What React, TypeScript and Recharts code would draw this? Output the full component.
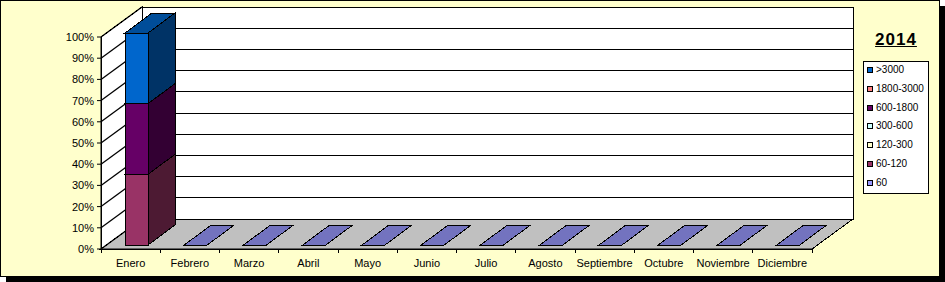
import React from 'react';
import { BarChart, Bar, XAxis, YAxis, CartesianGrid } from 'recharts';

const months = ['Enero', 'Febrero', 'Marzo', 'Abril', 'Mayo', 'Junio', 'Julio', 'Agosto', 'Septiembre', 'Octubre', 'Noviembre', 'Diciembre'];

// stacking order: bottom first
const seriesNames = ['60', '60-120', '120-300', '300-600', '600-1800', '1800-3000', '>3000'];
const seriesColors = ['#9999FF', '#993366', '#FFFFCC', '#CCFFFF', '#660066', '#FF8080', '#0066CC'];

const s60 = [0, 0, 0, 0, 0, 0, 0, 0, 0, 0, 0, 0];
const s60_120 = [1, 0, 0, 0, 0, 0, 0, 0, 0, 0, 0, 0];
const s120_300 = [0, 0, 0, 0, 0, 0, 0, 0, 0, 0, 0, 0];
const s300_600 = [0, 0, 0, 0, 0, 0, 0, 0, 0, 0, 0, 0];
const s600_1800 = [1, 0, 0, 0, 0, 0, 0, 0, 0, 0, 0, 0];
const s1800_3000 = [0, 0, 0, 0, 0, 0, 0, 0, 0, 0, 0, 0];
const sOver3000 = [1, 0, 0, 0, 0, 0, 0, 0, 0, 0, 0, 0];

const seriesValues = [s60, s60_120, s120_300, s300_600, s600_1800, s1800_3000, sOver3000];
const yTicks = [0, 0.1, 0.2, 0.3, 0.4, 0.5, 0.6, 0.7, 0.8, 0.9, 1];
const title = '2014';

const data = months.map((m, i) => {
  const row: any = { month: m };
  seriesNames.forEach((n, si) => { row[n] = seriesValues[si][i]; });
  return row;
});

const W = 938;
const H = 275;
const X_H = 27;
const margin = { top: 36, right: 127, bottom: 0, left: 0 };
const Y_W = 100;
const PL = margin.left + Y_W;
const PR = W - margin.right;
const PT = margin.top;
const PB = H - margin.bottom - X_H;
// wall depth offset
const DX = 41;
const DY = -30;
// bar offset inside depth, and bar depth
const BX = 6;
const BY = -4;
const BDX = 27;
const BDY = -20;

const FONT = 'Arial, "Liberation Sans", sans-serif';

const shade = (hex: string, f: number) => {
  const n = parseInt(hex.slice(1), 16);
  const r = (n >> 16) & 255, g = (n >> 8) & 255, b = n & 255;
  return `rgb(${Math.round(r * f)},${Math.round(g * f)},${Math.round(b * f)})`;
};

// side wall, back wall and floor, drawn under the chart svg
const Walls = () => (
  <svg width={W} height={H} style={{ position: 'absolute', left: 0, top: 0 }}>
    <g shapeRendering="crispEdges">
      <polygon points={`${PL},${PB} ${PL},${PT} ${PL + DX},${PT + DY} ${PL + DX},${PB + DY}`} fill="#fff" stroke="#000" />
      <polygon points={`${PL + DX},${PT + DY} ${PR + DX},${PT + DY} ${PR + DX},${PB + DY} ${PL + DX},${PB + DY}`} fill="#fff" stroke="#000" />
      <polygon points={`${PL},${PB} ${PR},${PB} ${PR + DX},${PB + DY} ${PL + DX},${PB + DY}`} fill="#C0C0C0" stroke="#000" />
    </g>
  </svg>
);

// 3D gridline: diagonal across the side wall, then along the back wall
const gridLine = (p: any) => {
  const { x1, y1, x2, index } = p;
  const sx = Number(x1 ?? PL);
  const ex = Number(x2 ?? PR);
  const yy = Number(y1);
  return (
    <g key={`g-${index}-${y1}`}>
      <line x1={sx} y1={yy} x2={sx + DX} y2={yy + DY} stroke="#000" strokeWidth={1.3} />
      <line x1={sx + DX} y1={yy + DY} x2={ex + DX} y2={yy + DY} stroke="#000" shapeRendering="crispEdges" />
    </g>
  );
};

const makeShape = (si: number) => (p: any) => {
  const { x, y, width, height, payload } = p;
  const c = seriesColors[si];
  const fx = x + BX;
  const fy = y + BY;
  if (!height || height < 0.5) {
    const total = seriesNames.reduce((a, n) => a + (payload?.[n] || 0), 0);
    if (si !== 0 || total !== 0) return <g />;
    return (
      <polygon
        shapeRendering="crispEdges"
        points={`${fx},${fy} ${fx + width},${fy} ${fx + width + BDX},${fy + BDY} ${fx + BDX},${fy + BDY}`}
        fill={shade(c, 0.75)}
        stroke="#000"
      />
    );
  }
  return (
    <g shapeRendering="crispEdges" stroke="#000">
      <rect x={fx} y={fy} width={width} height={height} fill={c} />
      <polygon
        points={`${fx + width},${fy} ${fx + width + BDX},${fy + BDY} ${fx + width + BDX},${fy + height + BDY} ${fx + width},${fy + height}`}
        fill={shade(c, 0.5)}
      />
      <polygon
        points={`${fx},${fy} ${fx + BDX},${fy + BDY} ${fx + width + BDX},${fy + BDY} ${fx + width},${fy}`}
        fill={shade(c, 0.75)}
      />
    </g>
  );
};

const MonthTick = (p: any) => {
  const { x, y, payload, index } = p;
  const half = (PR - PL) / months.length / 2;
  const ay = y - 4;
  return (
    <g shapeRendering="crispEdges">
      <line x1={x - half} y1={ay} x2={x - half} y2={ay + 4} stroke="#000" />
      {index === months.length - 1 && <line x1={x + half} y1={ay} x2={x + half} y2={ay + 4} stroke="#000" />}
      <text x={x} y={ay + 14} textAnchor="middle" dominantBaseline="central" fontSize={11} fontFamily={FONT} fill="#000">
        {payload.value}
      </text>
    </g>
  );
};

export default function App() {
  const legendItems = seriesNames.map((n, i) => ({ name: n, color: seriesColors[i] })).reverse();
  return (
    <div style={{ position: 'absolute', left: 0, top: 0 }}>
      <div
        style={{
          position: 'relative',
          width: W,
          height: H,
          border: '1px solid #000',
          background: '#FFFFCC',
          boxShadow: '6px 6px 0 #000',
          fontFamily: FONT,
        }}
      >
        <Walls />
        <div style={{ position: 'absolute', left: 0, top: 0 }}>
          <BarChart width={W} height={H} data={data} margin={margin} stackOffset="expand" barSize={23}>
            <CartesianGrid vertical={false} horizontal={gridLine} />
            <XAxis
              dataKey="month"
              height={X_H}
              axisLine={{ stroke: '#000' }}
              tickLine={false}
              tickSize={4}
              tickMargin={0}
              interval={0}
              tick={<MonthTick />}
            />
            <YAxis
              width={Y_W}
              domain={[0, 1]}
              ticks={yTicks}
              interval={0}
              tickFormatter={(v: number) => `${Math.round(v * 100)}%`}
              axisLine={{ stroke: '#000' }}
              tickLine={{ stroke: '#000' }}
              tickSize={4}
              tickMargin={3}
              tick={{ fontSize: 11, fill: '#000', fontFamily: FONT }}
            />
            {seriesNames.map((n, si) => (
              <Bar key={n} dataKey={n} name={n} stackId="a" fill={seriesColors[si]} shape={makeShape(si)} isAnimationActive={false} />
            ))}
          </BarChart>
        </div>
        <div
          style={{
            position: 'absolute',
            left: 862,
            top: 30,
            width: 66,
            textAlign: 'center',
            fontSize: 17,
            lineHeight: '17px',
            fontWeight: 'bold',
            textDecoration: 'underline',
            letterSpacing: 1,
          }}
        >
          {title}
        </div>
        <div
          style={{
            position: 'absolute',
            left: 862,
            top: 60,
            width: 64,
            height: 131,
            border: '1px solid #000',
            background: '#fff',
          }}
        >
          {legendItems.map((it, k) => (
            <div key={it.name} style={{ position: 'absolute', left: 3, top: 8 + 18.8 * k - 6, height: 12, display: 'flex', alignItems: 'center' }}>
              <span style={{ display: 'inline-block', width: 4, height: 4, border: '1px solid #000', background: it.color }} />
              <span style={{ marginLeft: 3, fontSize: 10, lineHeight: '12px', whiteSpace: 'nowrap' }}>{it.name}</span>
            </div>
          ))}
        </div>
      </div>
    </div>
  );
}
